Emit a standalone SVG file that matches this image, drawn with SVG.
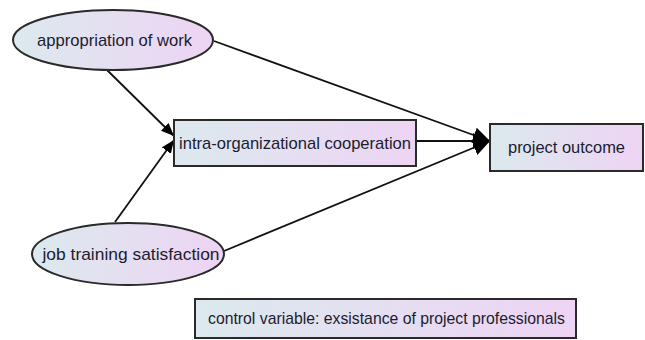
<svg xmlns="http://www.w3.org/2000/svg" width="645" height="340" viewBox="0 0 645 340">
  <style>
    .node { fill: url(#fillGrad); stroke: #2a2a2a; stroke-width: 2; }
    .label { font-family: "Liberation Sans", Arial, sans-serif; font-size: 17px; fill: #1c1c30; text-anchor: middle; }
    .edge { stroke: #111; stroke-width: 1.8; fill: none; }
    .big { marker-end: url(#headBig); }
    .small { marker-end: url(#headSmall); }
  </style>
  <defs>
    <linearGradient id="fillGrad" x1="0" y1="0" x2="1" y2="0">
      <stop offset="0" stop-color="#dce9ee"/>
      <stop offset="1" stop-color="#eed4f4"/>
    </linearGradient>
    <marker id="headBig" markerUnits="userSpaceOnUse" markerWidth="18" markerHeight="18" viewBox="0 0 18 18" refX="17" refY="9" orient="auto">
      <path d="M0,1 L17,9 L0,17 Z" fill="#000"/>
    </marker>
    <marker id="headSmall" markerUnits="userSpaceOnUse" markerWidth="14" markerHeight="12" viewBox="0 0 14 12" refX="13" refY="6" orient="auto">
      <path d="M0,0.5 L13,6 L0,11.5 Z" fill="#000"/>
    </marker>
  </defs>

  <g id="connectors">
    <line class="edge big" x1="214" y1="41" x2="490" y2="141"/>
    <line class="edge big" x1="416" y1="141" x2="490" y2="141"/>
    <line class="edge big" x1="224" y1="251" x2="490" y2="141"/>
    <line class="edge small" x1="107" y1="70" x2="174" y2="136"/>
    <line class="edge small" x1="115" y1="222" x2="174" y2="140"/>
  </g>

  <g id="appropriation-of-work">
    <ellipse class="node" cx="113" cy="40" rx="100" ry="30"/>
    <text class="label" x="114.5" y="46" textLength="155" lengthAdjust="spacingAndGlyphs">appropriation of work</text>
  </g>

  <g id="intra-organizational-cooperation">
    <rect class="node" x="174" y="120" width="242" height="46"/>
    <text class="label" x="295" y="149" textLength="232" lengthAdjust="spacingAndGlyphs">intra-organizational cooperation</text>
  </g>

  <g id="project-outcome">
    <rect class="node" x="490" y="124" width="153" height="47"/>
    <text class="label" x="566.5" y="153" textLength="117" lengthAdjust="spacingAndGlyphs">project outcome</text>
  </g>

  <g id="job-training-satisfaction">
    <ellipse class="node" cx="128" cy="254" rx="96" ry="31"/>
    <text class="label" x="131" y="260" textLength="177" lengthAdjust="spacingAndGlyphs">job training satisfaction</text>
  </g>

  <g id="control-variable">
    <rect class="node" x="195" y="299" width="381" height="39"/>
    <text class="label" x="386.5" y="324" textLength="357" lengthAdjust="spacingAndGlyphs">control variable: exsistance of project professionals</text>
  </g>
</svg>
